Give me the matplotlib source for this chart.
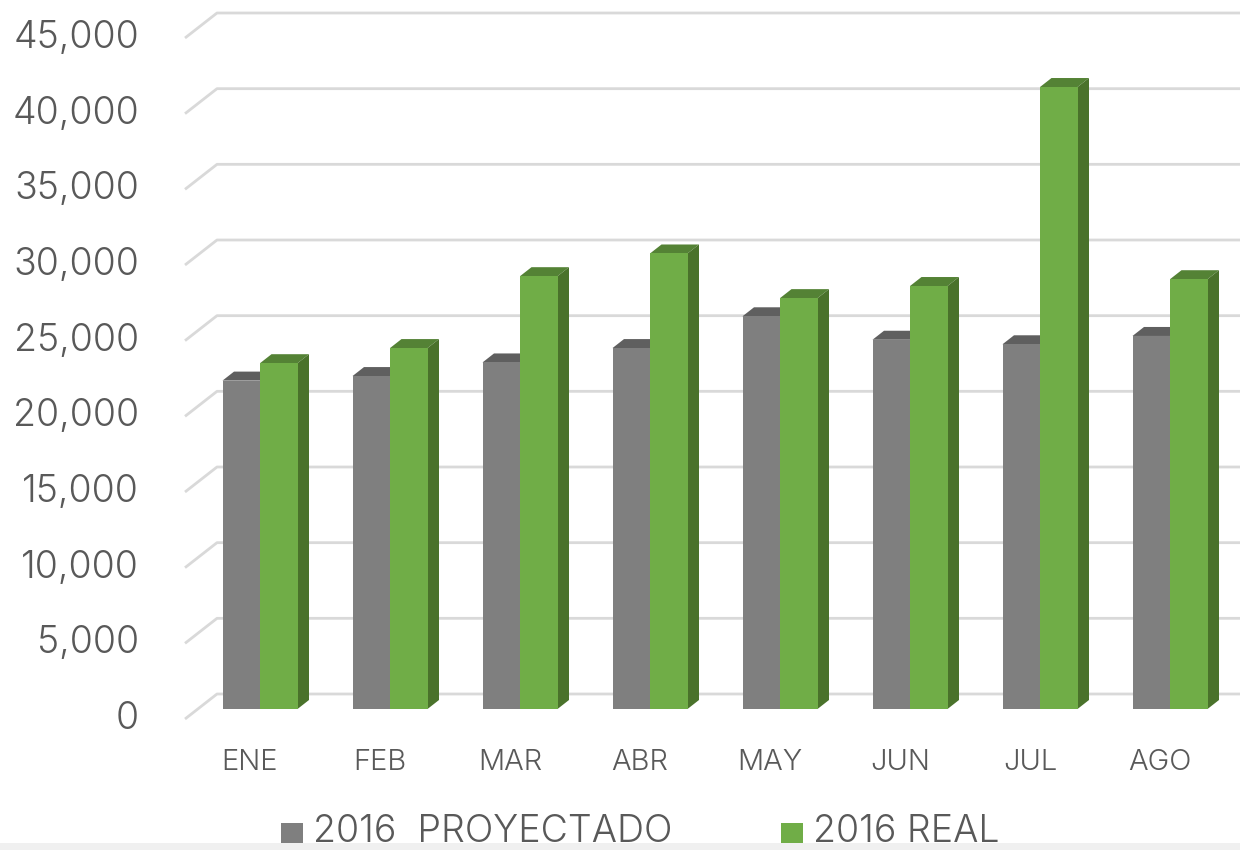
"""
3D-style clustered column chart: 2016 projected vs real, Jan-Aug.
"""

import matplotlib.pyplot as plt
from matplotlib.patches import Polygon, Rectangle

MONTHS = ['ENE', 'FEB', 'MAR', 'ABR', 'MAY', 'JUN', 'JUL', 'AGO']
PROYECTADO = [21700, 22000, 22900, 23850, 25950, 24400, 24100, 24650]
REAL = [22850, 23850, 28600, 30100, 27150, 27950, 41100, 28400]
Y_TICKS = [0, 5000, 10000, 15000, 20000, 25000, 30000, 35000, 40000, 45000]
SERIES_NAMES = ['2016  PROYECTADO', '2016 REAL']

GRAY_FRONT = '#7f7f7f'
GRAY_TOP = '#5f5f5f'
GREEN_FRONT = '#70ad47'
GREEN_TOP = '#548235'
GREEN_SIDE = '#4a722b'
GRID = '#d9d9d9'
TEXT = '#595959'
FONT = ['Inter', 'DejaVu Sans']
WEIGHT = 300

W_PX, H_PX, DPI = 1240, 850, 100
plt.rcParams['font.family'] = FONT

fig = plt.figure(figsize=(W_PX / DPI, H_PX / DPI), dpi=DPI)

# axes = plane of the bar front faces, in pixels
ax_left, ax_right = 198, 1240
ax_bottom, ax_top = H_PX - 709, H_PX - 28
ax = fig.add_axes([ax_left / W_PX, ax_bottom / H_PX,
                   (ax_right - ax_left) / W_PX, (ax_top - ax_bottom) / H_PX])
xmin = (ax_left - 260) / 130
xmax = (ax_right - 260) / 130
ymax = 45000
ax.set_xlim(xmin, xmax)
ax.set_ylim(0, ymax)
ax.axis('off')

# pixel -> data helpers
px_x = (xmax - xmin) / (ax_right - ax_left)
px_y = ymax / (ax_top - ax_bottom)

# gridlines: slanted floor edge then back wall line
for v in Y_TICKS:
    fx, fy = xmin - 13 * px_x, v - 10 * px_y   # front edge
    bx, by = xmin + 19 * px_x, v + 15 * px_y   # back wall
    ax.plot([fx, bx, xmax + 1], [fy, by, by], color=GRID, lw=2,
            clip_on=False, zorder=1, solid_capstyle='butt')
    ax.text(fx - 46 * px_x, fy, f'{v:,}', ha='right', va='center',
            fontsize=27, color=TEXT, fontweight=WEIGHT, clip_on=False)

bw = 37.5 * px_x
ddx, ddy = 11.5 * px_x, 9 * px_y

for i, (p, r) in enumerate(zip(PROYECTADO, REAL)):
    # gray bar (left)
    x0, x1 = i - bw, i
    ax.add_patch(Polygon([(x0, p), (x1, p), (x1 + ddx, p + ddy), (x0 + ddx, p + ddy)],
                         closed=True, fc=GRAY_TOP, ec='none', zorder=3))
    ax.add_patch(Polygon([(x1, 0), (x1, p), (x1 + ddx, p + ddy), (x1 + ddx, ddy)],
                         closed=True, fc=GRAY_TOP, ec='none', zorder=3))
    ax.add_patch(Rectangle((x0, 0), bw, p, fc=GRAY_FRONT, ec='none', zorder=4))
    # green bar (right)
    x0, x1 = i, i + bw
    ax.add_patch(Polygon([(x0, r), (x1, r), (x1 + ddx, r + ddy), (x0 + ddx, r + ddy)],
                         closed=True, fc=GREEN_TOP, ec='none', zorder=5))
    ax.add_patch(Polygon([(x1, 0), (x1, r), (x1 + ddx, r + ddy), (x1 + ddx, ddy)],
                         closed=True, fc=GREEN_SIDE, ec='none', zorder=5))
    ax.add_patch(Rectangle((x0, 0), bw, r, fc=GREEN_FRONT, ec='none', zorder=6))
    # category label
    ax.text(i - 10 * px_x, -54 * px_y, MONTHS[i], ha='center', va='center',
            fontsize=21, color=TEXT, fontweight=WEIGHT, clip_on=False)

# legend drawn by hand at the bottom
fig.patches.append(Rectangle((0, 0), 1, 7 / H_PX, transform=fig.transFigure,
                             fc='#f0f0f0', ec='none', zorder=0))
legend_items = [(281, GRAY_FRONT, SERIES_NAMES[0]), (781, GREEN_FRONT, SERIES_NAMES[1])]
for lx, col, name in legend_items:
    fig.patches.append(Rectangle((lx / W_PX, 7 / H_PX), 22 / W_PX, 20 / H_PX,
                                 transform=fig.transFigure, fc=col, ec='none', zorder=5))
    fig.text((lx + 32) / W_PX, 7.5 / H_PX, name, ha='left', va='baseline',
             fontsize=27, color=TEXT, fontweight=WEIGHT, zorder=5)

fig.savefig('out.png', dpi=DPI)
plt.close(fig)
